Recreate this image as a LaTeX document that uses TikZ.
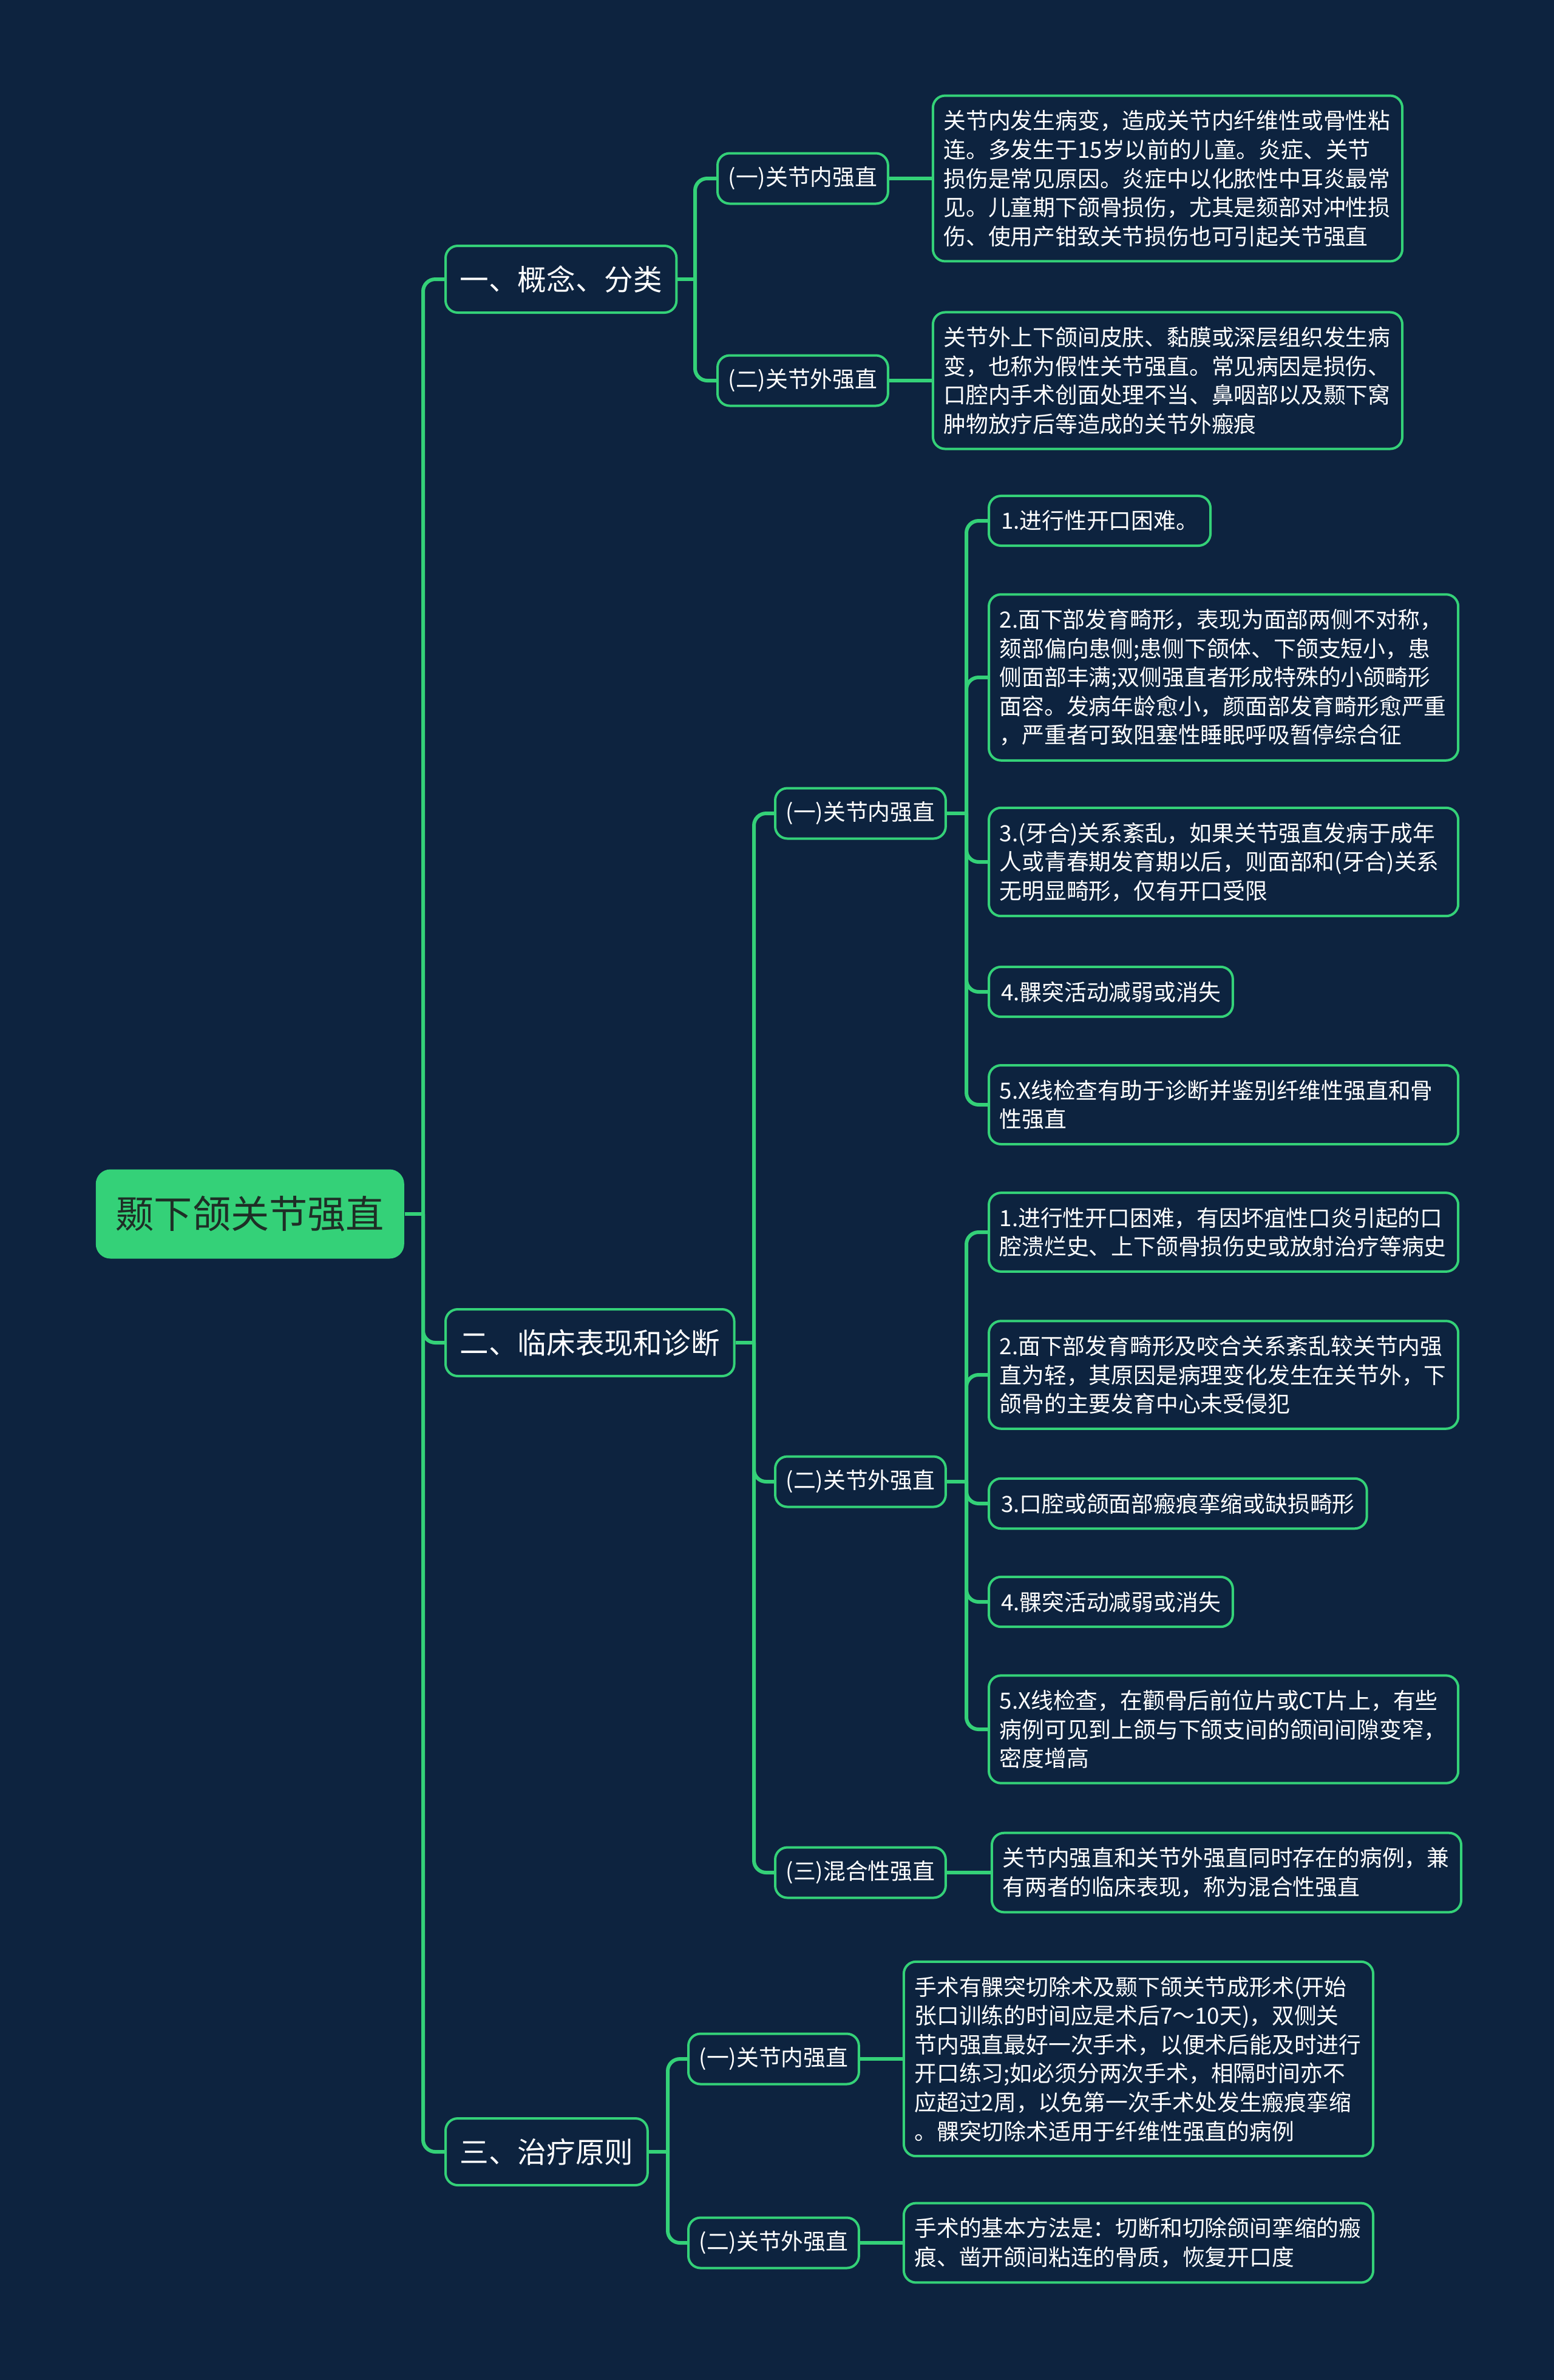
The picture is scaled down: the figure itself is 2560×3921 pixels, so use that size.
\documentclass[tikz,border=0pt]{standalone}
\usepackage{fontspec}
\setmainfont{Noto Sans CJK SC}
\usetikzlibrary{positioning}
\definecolor{bgnavy}{RGB}{13,35,63}
\definecolor{mapgreen}{RGB}{52,209,120}
\definecolor{rootink}{RGB}{30,46,38}

\begin{document}
\begin{tikzpicture}[x=0.25pt, y=-0.25pt,
  link/.style={draw=mapgreen, line width=1.5pt, rounded corners=5pt},
  box/.style={draw=mapgreen, line width=1pt, rounded corners=5pt, fill=bgnavy, text=white, inner xsep=5pt},
  topic/.style={box, font=\fontsize{11.9}{14}\selectfont, minimum height=27.5pt, inner xsep=5.9pt, anchor=west},
  sub/.style={box, font=\fontsize{9.2}{11}\selectfont, minimum height=20.75pt, inner xsep=4.4pt, anchor=west},
  leaf/.style={box, font=\fontsize{9.2}{11.9}\selectfont, align=left, inner ysep=6pt, anchor=west},
  para/.style={leaf, text width=184.5pt, inner xsep=4.4pt}]

% Canvas
\fill[bgnavy] (0,0) rectangle (2560,3921);
\useasboundingbox (0,0) rectangle (2560,3921);

% Root and main topics
\node[fill=mapgreen, text=rootink, rounded corners=6pt, minimum width=127pt, minimum height=36.75pt,
  font=\fontsize{15.8}{18}\selectfont, anchor=west] (root) at (157,2000) {颞下颌关节强直};
\node[topic] (s1) at (732,460) {一、概念、分类};
\node[topic] (s2) at (732,2212) {二、临床表现和诊断};
\node[topic] (s3) at (732,3545) {三、治疗原则};

% 概念、分类
\node[sub] (s1a) at (1180,294) {(一)关节内强直};
\node[sub] (s1b) at (1180,627) {(二)关节外强直};
\node[para, right=17.5pt of s1a] (s1a-t) {关节内发生病变，造成关节内纤维性或骨性粘\\连。多发生于15岁以前的儿童。炎症、关节\\损伤是常见原因。炎症中以化脓性中耳炎最常\\见。儿童期下颌骨损伤，尤其是颏部对冲性损\\伤、使用产钳致关节损伤也可引起关节强直};
\node[para, right=17.5pt of s1b] (s1b-t) {关节外上下颌间皮肤、黏膜或深层组织发生病\\变，也称为假性关节强直。常见病因是损伤、\\口腔内手术创面处理不当、鼻咽部以及颞下窝\\肿物放疗后等造成的关节外瘢痕};

% 临床表现和诊断
\node[sub] (s2a) at (1275,1340) {(一)关节内强直};
\node[sub] (s2b) at (1275,2441) {(二)关节外强直};
\node[sub] (s2c) at (1275,3085) {(三)混合性强直};

\node[leaf] (a1) at (1627,858) {1.进行性开口困难。};
\node[para] (a2) at (1627,1116) {2.面下部发育畸形，表现为面部两侧不对称，\\颏部偏向患侧;患侧下颌体、下颌支短小，患\\侧面部丰满;双侧强直者形成特殊的小颌畸形\\面容。发病年龄愈小，颜面部发育畸形愈严重\\，严重者可致阻塞性睡眠呼吸暂停综合征};
\node[para] (a3) at (1627,1420) {3.(牙合)关系紊乱，如果关节强直发病于成年\\人或青春期发育期以后，则面部和(牙合)关系\\无明显畸形，仅有开口受限};
\node[leaf] (a4) at (1627,1634) {4.髁突活动减弱或消失};
\node[para] (a5) at (1627,1820) {5.X线检查有助于诊断并鉴别纤维性强直和骨\\性强直};

\node[para] (b1) at (1627,2030) {1.进行性开口困难，有因坏疽性口炎引起的口\\腔溃烂史、上下颌骨损伤史或放射治疗等病史};
\node[para] (b2) at (1627,2265) {2.面下部发育畸形及咬合关系紊乱较关节内强\\直为轻，其原因是病理变化发生在关节外，下\\颌骨的主要发育中心未受侵犯};
\node[leaf] (b3) at (1627,2477) {3.口腔或颌面部瘢痕挛缩或缺损畸形};
\node[leaf] (b4) at (1627,2639) {4.髁突活动减弱或消失};
\node[para] (b5) at (1627,2849) {5.X线检查，在颧骨后前位片或CT片上，有些\\病例可见到上颌与下颌支间的颌间间隙变窄，\\密度增高};

\node[para, right=18pt of s2c] (s2c-t) {关节内强直和关节外强直同时存在的病例，兼\\有两者的临床表现，称为混合性强直};

% 治疗原则
\node[sub] (s3a) at (1132,3392) {(一)关节内强直};
\node[sub] (s3b) at (1132,3695) {(二)关节外强直};
\node[para, right=17.5pt of s3a] (s3a-t) {手术有髁突切除术及颞下颌关节成形术(开始\\张口训练的时间应是术后7～10天)，双侧关\\节内强直最好一次手术，以便术后能及时进行\\开口练习;如必须分两次手术，相隔时间亦不\\应超过2周，以免第一次手术处发生瘢痕挛缩\\。髁突切除术适用于纤维性强直的病例};
\node[para, right=17.5pt of s3b] (s3b-t) {手术的基本方法是：切断和切除颌间挛缩的瘢\\痕、凿开颌间粘连的骨质，恢复开口度};

% Links
\draw[link] (root.east) -- (697,2000) coordinate (j0);
\foreach \n in {s1,s2,s3} \draw[link] (j0) |- (\n.west);

\draw[link] (s1.east) -- (1145,460) coordinate (j1);
\foreach \n in {s1a,s1b} \draw[link] (j1) |- (\n.west);
\draw[link] (s1a.east) -- (s1a-t.west);
\draw[link] (s1b.east) -- (s1b-t.west);

\draw[link] (s2.east) -- (1242,2212) coordinate (j2);
\foreach \n in {s2a,s2b,s2c} \draw[link] (j2) |- (\n.west);
\draw[link] (s2a.east) -- (1592,1340) coordinate (j2a);
\foreach \n in {a1,a2,a3,a4,a5} \draw[link] (j2a) |- (\n.west);
\draw[link] (s2b.east) -- (1592,2441) coordinate (j2b);
\foreach \n in {b1,b2,b3,b4,b5} \draw[link] (j2b) |- (\n.west);
\draw[link] (s2c.east) -- (s2c-t.west);

\draw[link] (s3.east) -- (1100,3545) coordinate (j3);
\foreach \n in {s3a,s3b} \draw[link] (j3) |- (\n.west);
\draw[link] (s3a.east) -- (s3a-t.west);
\draw[link] (s3b.east) -- (s3b-t.west);
\end{tikzpicture}
\end{document}
